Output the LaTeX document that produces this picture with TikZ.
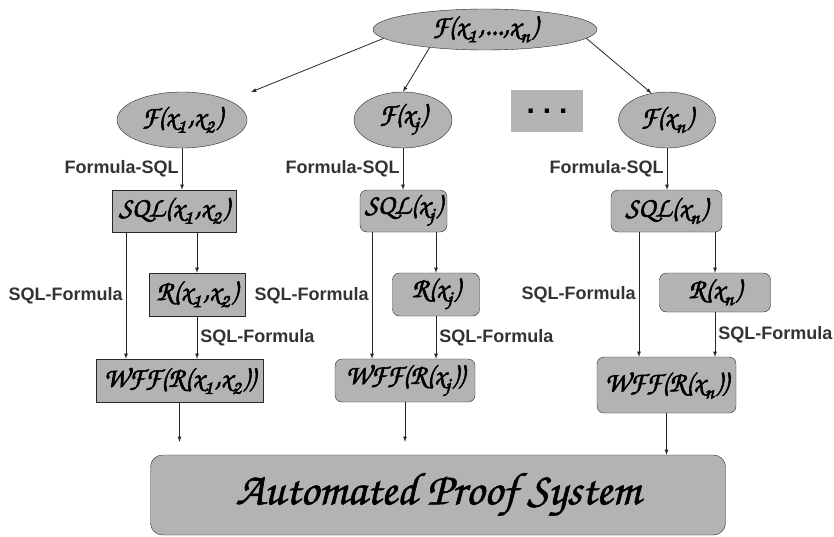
\documentclass[tikz,border=0pt]{standalone}
\usepackage[T1,TU]{fontenc}
\usepackage{fontspec}
\setsansfont{Liberation Sans}
\usetikzlibrary{shapes.geometric}

\definecolor{kastengrau}{RGB}{179,179,179}
\definecolor{randgrau}{RGB}{40,40,40}
\definecolor{beschriftung}{RGB}{51,51,51}

\newcommand{\kal}{\fontencoding{T1}\fontfamily{pzc}\fontseries{m}\fontshape{it}\selectfont}
\newcommand{\ix}[1]{\raisebox{-0.12em}{\textsubscript{#1}}\kern0.05em}
\newcommand{\fett}[1]{\special{pdf:literal 2 Tr 0.55 w}#1\special{pdf:literal 0 Tr 1 w}}

\tikzset{
	ellip/.style={ellipse, draw=randgrau, fill=kastengrau, inner sep=0pt, font=\kal\fontsize{28}{32}\selectfont},
	kasten/.style={rectangle, draw=randgrau, fill=kastengrau, inner sep=0pt, font=\kal\fontsize{28}{32}\selectfont},
	rkasten/.style={kasten, rounded corners=7pt},
	pfeil/.style={->, >=latex, line width=0.8pt, draw=black!85},
	regel/.style={font=\sffamily\bfseries\fontsize{18}{21}\selectfont, text=beschriftung, inner sep=3pt}
}

\begin{document}
\begin{tikzpicture}[x=1pt, y=-1pt]
	\useasboundingbox (0,0) rectangle (834,536);

	% Ausgangsformel
	\draw (485,29.5) node[ellip, minimum width=224pt, minimum height=41pt] (Formel) {\fett{F(x\ix{1},...,x\ix{n})}};

	% Teilformeln
	\draw (182,120) node[ellip, minimum width=130pt, minimum height=56pt] (Formel12) {\fett{F(x\ix{1},x\ix{2})}};
	\draw (403,120) node[ellip, minimum width=98pt, minimum height=56pt] (FormelJ) {\fett{F(x\ix{j})}};
	\draw (547,111) node[fill=kastengrau, minimum width=72pt, minimum height=42pt, font=\sffamily\bfseries\fontsize{30}{30}\selectfont] (Punkte) {\raisebox{-5pt}{.\hspace{8pt}.\hspace{8pt}.}};
	\draw (667,120) node[ellip, minimum width=97pt, minimum height=56pt] (FormelN) {\fett{F(x\ix{n})}};

	% SQL-Anfragen
	\draw (174,211) node[kasten, minimum width=124pt, minimum height=42pt] (Sql12) {\fett{SQL(x\ix{1},x\ix{2})}};
	\draw (403.5,211) node[rkasten, minimum width=87pt, minimum height=42pt] (SqlJ) {\fett{SQL(x\ix{j})}};
	\draw (666.5,211) node[rkasten, minimum width=111pt, minimum height=42pt] (SqlN) {\fett{SQL(x\ix{n})}};

	% Ergebnisse
	\draw (197,294.5) node[kasten, minimum width=96pt, minimum height=43pt] (Rel12) {\fett{R(x\ix{1},x\ix{2})}};
	\draw (436,294.5) node[rkasten, minimum width=87pt, minimum height=43pt] (RelJ) {\fett{R(x\ix{j})}};
	\draw (715,292.5) node[rkasten, minimum width=111pt, minimum height=39pt] (RelN) {\fett{R(x\ix{n})}};

	% Formeln
	\draw (179.5,380.5) node[kasten, minimum width=167pt, minimum height=43pt] (Wff12) {\fett{WFF(R(x\ix{1},x\ix{2}))}};
	\draw (405,380.5) node[rkasten, minimum width=140pt, minimum height=43pt] (WffJ) {\fett{WFF(R(x\ix{j}))}};
	\draw (666.5,385) node[rkasten, minimum width=139pt, minimum height=56pt] (WffN) {\fett{WFF(R(x\ix{n}))}};

	% Beweiser
	\draw (438,495) node[kasten, rounded corners=12pt, minimum width=575pt, minimum height=80pt, font=\kal\fontsize{46}{50}\selectfont] (Beweiser) {\fett{Automated Proof System}};

	% Verzweigung
	\coordinate (Ende12) at (251,92);
	\draw[pfeil] (Formel.185) -- (Ende12);
	\draw[pfeil] (Formel.198) -- (FormelJ.north);
	\draw[pfeil] (Formel.355) -- (FormelN.120);

	% Formula-SQL
	\draw[pfeil] (Formel12.south) -- (Formel12.south |- Sql12.north) node[regel, left, midway] {Formula-SQL};
	\draw[pfeil] (FormelJ.south) -- (FormelJ.south |- SqlJ.north) node[regel, left, midway] {Formula-SQL};
	\draw[pfeil] (FormelN.south) -- (FormelN.south |- SqlN.north) node[regel, left, midway] {Formula-SQL};

	% SQL-Formula direkt
	\coordinate (Links12) at (126,0);
	\coordinate (LinksJ) at (372,0);
	\coordinate (LinksN) at (639,0);
	\draw[pfeil] (Links12 |- Sql12.south) -- (Links12 |- Wff12.north) node[regel, left, midway] {SQL-Formula};
	\draw[pfeil] (LinksJ |- SqlJ.south) -- (LinksJ |- WffJ.north) node[regel, left, midway] {SQL-Formula};
	\draw[pfeil] (LinksN |- SqlN.south) -- (LinksN |- WffN.north) node[regel, left, midway] {SQL-Formula};

	% SQL -> Ergebnis -> Formel
	\draw[pfeil] (Rel12.north |- Sql12.south) -- (Rel12.north);
	\draw[pfeil] (RelJ.north |- SqlJ.south) -- (RelJ.north);
	\draw[pfeil] (RelN.north |- SqlN.south) -- (RelN.north);
	\draw[pfeil] (Rel12.south) -- (Rel12.south |- Wff12.north) node[regel, right, midway] {SQL-Formula};
	\draw[pfeil] (RelJ.south) -- (RelJ.south |- WffJ.north) node[regel, right, midway] {SQL-Formula};
	\draw[pfeil] (RelN.south) -- (RelN.south |- WffN.north) node[regel, right, midway] {SQL-Formula};

	% in den Beweiser
	\draw[pfeil, shorten >=13pt] (Wff12.south) -- (Wff12.south |- Beweiser.north);
	\draw[pfeil, shorten >=13pt] (WffJ.south) -- (WffJ.south |- Beweiser.north);
	\draw[pfeil] (WffN.south) -- (WffN.south |- Beweiser.north);
\end{tikzpicture}
\end{document}
